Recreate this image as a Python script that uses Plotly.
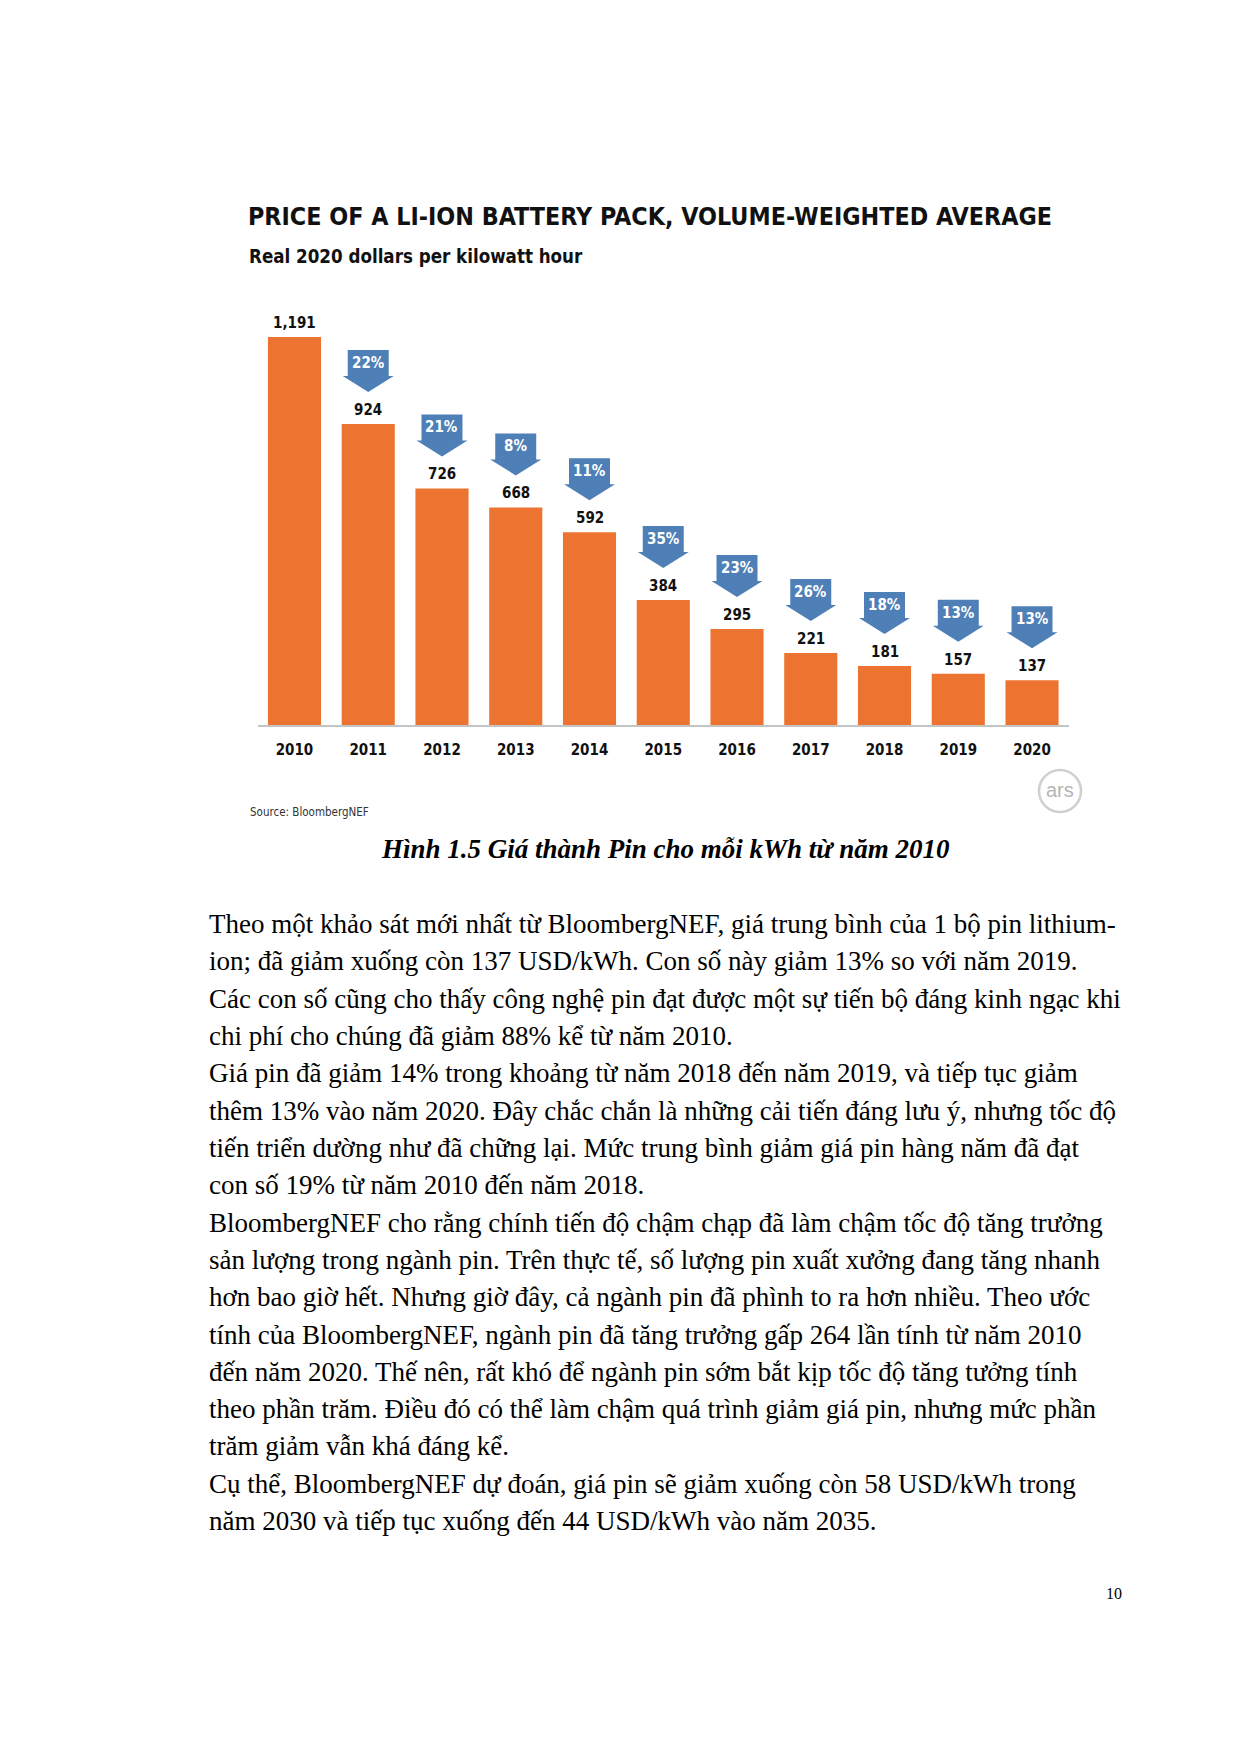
import plotly.graph_objects as go

# ---------------- data ----------------
years = ["2010", "2011", "2012", "2013", "2014", "2015", "2016", "2017", "2018", "2019", "2020"]
prices = [1191, 924, 726, 668, 592, 384, 295, 221, 181, 157, 137]
declines = [None, 22, 21, 8, 11, 35, 23, 26, 18, 13, 13]

title_text = "PRICE OF A LI-ION BATTERY PACK, VOLUME-WEIGHTED AVERAGE"
subtitle_text = "Real 2020 dollars per kilowatt hour"
source_text = "Source: BloombergNEF"
caption_text = "Hình 1.5 Giá thành Pin cho mỗi kWh từ năm 2010"
body_lines = [
    "Theo một khảo sát mới nhất từ BloombergNEF, giá trung bình của 1 bộ pin lithium-",
    "ion; đã giảm xuống còn 137 USD/kWh. Con số này giảm 13% so với năm 2019.",
    "Các con số cũng cho thấy công nghệ pin đạt được một sự tiến bộ đáng kinh ngạc khi",
    "chi phí cho chúng đã giảm 88% kể từ năm 2010.",
    "Giá pin đã giảm 14% trong khoảng từ năm 2018 đến năm 2019, và tiếp tục giảm",
    "thêm 13% vào năm 2020. Đây chắc chắn là những cải tiến đáng lưu ý, nhưng tốc độ",
    "tiến triển dường như đã chững lại. Mức trung bình giảm giá pin hàng năm đã đạt",
    "con số 19% từ năm 2010 đến năm 2018.",
    "BloombergNEF cho rằng chính tiến độ chậm chạp đã làm chậm tốc độ tăng trưởng",
    "sản lượng trong ngành pin. Trên thực tế, số lượng pin xuất xưởng đang tăng nhanh",
    "hơn bao giờ hết. Nhưng giờ đây, cả ngành pin đã phình to ra hơn nhiều. Theo ước",
    "tính của BloombergNEF, ngành pin đã tăng trưởng gấp 264 lần tính từ năm 2010",
    "đến năm 2020. Thế nên, rất khó để ngành pin sớm bắt kịp tốc độ tăng tưởng tính",
    "theo phần trăm. Điều đó có thể làm chậm quá trình giảm giá pin, nhưng mức phần",
    "trăm giảm vẫn khá đáng kể.",
    "Cụ thể, BloombergNEF dự đoán, giá pin sẽ giảm xuống còn 58 USD/kWh trong",
    "năm 2030 và tiếp tục xuống đến 44 USD/kWh vào năm 2035.",
]
page_number = "10"

# ---------------- style ----------------
W, H = 1240, 1754
ORANGE = "#ed7430"
BLUE = "#4e7fb6"
NARROW = "Liberation Sans Narrow, Arial Narrow, DejaVu Sans Condensed, sans-serif"
SERIF = "Liberation Serif, Times New Roman, DejaVu Serif, serif"


def px(x):
    return x / W


def py(y):
    return 1 - y / H


xs = list(range(len(years)))

fig = go.Figure()
fig.add_trace(go.Bar(
    x=xs, y=prices, marker=dict(color=ORANGE, line=dict(width=0)),
    hoverinfo="skip", showlegend=False,
))

annotations = []
shapes = []

# value labels above bars
for i, v in zip(xs, prices):
    annotations.append(dict(
        x=i, y=v, xref="x", yref="y", text=f"{v:,}", showarrow=False,
        yanchor="middle", yshift=14,
        font=dict(family=NARROW, size=15, color="#111111", weight=700),
    ))

# blue downward arrows with percentage decline
for i, v, d in zip(xs, prices, declines):
    if d is None:
        continue
    path = ("M -20.5 74 L 20.5 74 L 20.5 48 L 25.5 48 L 0 32 "
            "L -25.5 48 L -20.5 48 Z")
    shapes.append(dict(
        type="path", xref="x", yref="y", xsizemode="pixel", ysizemode="pixel",
        xanchor=i, yanchor=v, path=path, fillcolor=BLUE,
        line=dict(width=0), layer="above",
    ))
    annotations.append(dict(
        x=i, y=v, xref="x", yref="y", text=f"{d}%", showarrow=False,
        yanchor="middle", yshift=61,
        font=dict(family=NARROW, size=15, color="white", weight=700),
    ))

# titles
annotations.append(dict(
    x=px(246), y=py(216), xref="paper", yref="paper", xanchor="left", yanchor="middle",
    text=title_text, showarrow=False,
    font=dict(family=NARROW, size=24.8, color="#111111", weight=700),
))
annotations.append(dict(
    x=px(247), y=py(256), xref="paper", yref="paper", xanchor="left", yanchor="middle",
    text=subtitle_text, showarrow=False,
    font=dict(family=NARROW, size=18.6, color="#111111", weight=700),
))
annotations.append(dict(
    x=px(248), y=py(812), xref="paper", yref="paper", xanchor="left", yanchor="middle",
    text=source_text, showarrow=False,
    font=dict(family=NARROW, size=11.5, color="#333333"),
))

# ars logo
shapes.append(dict(
    type="circle", xref="paper", yref="paper",
    x0=px(1039), x1=px(1081), y0=py(812), y1=py(770),
    line=dict(color="#cfcfcf", width=2.5), fillcolor="white",
))
annotations.append(dict(
    x=px(1060), y=py(790), xref="paper", yref="paper", text="ars", showarrow=False,
    xanchor="center", yanchor="middle",
    font=dict(family="Liberation Sans, Arial, sans-serif", size=20, color="#b5b5b5"),
))

# caption
annotations.append(dict(
    x=px(665), y=py(849), xref="paper", yref="paper", xanchor="center", yanchor="middle",
    text=f"<b><i>{caption_text}</i></b>", showarrow=False,
    font=dict(family=SERIF, size=27, color="#000000"),
))

# body text lines
for k, line in enumerate(body_lines):
    annotations.append(dict(
        x=px(207), y=py(924 + k * 37.32), xref="paper", yref="paper",
        xanchor="left", yanchor="middle", text=line, showarrow=False,
        font=dict(family=SERIF, size=27, color="#000000"),
    ))

annotations.append(dict(
    x=px(1114), y=py(1593), xref="paper", yref="paper", xanchor="center", yanchor="middle",
    text=page_number, showarrow=False,
    font=dict(family=SERIF, size=16, color="#000000"),
))

fig.update_layout(
    width=W, height=H, autosize=False,
    margin=dict(l=0, r=0, t=0, b=0),
    paper_bgcolor="white", plot_bgcolor="white",
    bargap=0.28,
    xaxis=dict(
        domain=[px(257.6), px(1068.9)], range=[-0.5, 10.5],
        tickmode="array", tickvals=xs, ticktext=years,
        showgrid=False, zeroline=False,
        showline=True, linecolor="#c4c4c4", linewidth=2,
        ticks="outside", ticklen=10, tickcolor="rgba(0,0,0,0)",
        tickfont=dict(family=NARROW, size=15, color="#111111", weight=700),
        fixedrange=True,
    ),
    yaxis=dict(
        domain=[py(725), py(301.5)], range=[0, 1300],
        visible=False, fixedrange=True,
    ),
    annotations=annotations,
    shapes=shapes,
)

fig.write_html(
    "out.html",
    config={"displayModeBar": False},
    post_script="document.body.style.margin='0';",
)
